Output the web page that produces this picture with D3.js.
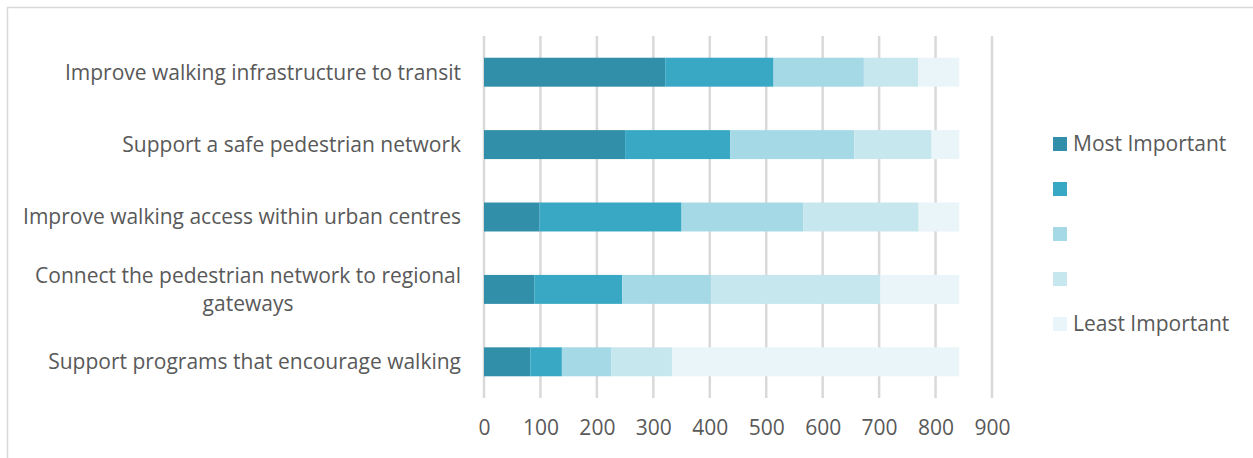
<!DOCTYPE html>
<html>
<head>
<meta charset="utf-8">
<script src="https://cdn.jsdelivr.net/npm/d3@7"></script>
<style>
  html, body { margin: 0; padding: 0; background: #fff; }
  svg text { font-family: "Open Sans", Lato, sans-serif; fill: #595959; }
</style>
</head>
<body>
<div id="chart"></div>
<script>
// categories, top to bottom
const categories = [
    "Improve walking infrastructure to transit",
    "Support a safe pedestrian network",
    "Improve walking access within urban centres",
    "Connect the pedestrian network to regional gateways",
    "Support programs that encourage walking"
];
const seriesNames = ["Most Important", "", "", "", "Least Important"];
const mostImportant   = [321, 250, 98, 89, 82];
const second          = [192, 186, 252, 156, 56];
const third           = [160, 220, 216, 157, 88];
const fourth          = [96, 137, 204, 300, 107];
const leastImportant  = [73, 49, 72, 140, 509];
const xTicks = [0, 100, 200, 300, 400, 500, 600, 700, 800, 900];

const colors = ["#318fa9", "#39a8c5", "#a5d9e6", "#c7e7ee", "#e9f5f8"];

const width = 1253, height = 458;
const plot = {left: 484, right: 992, top: 36, bottom: 398};
const fontSize = "21px";

const seriesValues = [mostImportant, second, third, fourth, leastImportant];
const keys = seriesValues.map((d, i) => "s" + i);
const rows = categories.map((c, i) => {
    let r = {category: c};
    keys.forEach((k, j) => r[k] = seriesValues[j][i]);
    return r;
});
const stacked = d3.stack().keys(keys)(rows);

const svg = d3.select("#chart")
    .append("svg")
    .attr("width", width)
    .attr("height", height);

// chart frame
svg.append("rect")
    .attr("x", 7.5).attr("y", 7.5)
    .attr("width", width).attr("height", height)
    .attr("fill", "none")
    .attr("stroke", "#d9d9d9")
    .attr("stroke-width", 1.5);

const xScale = d3.scaleLinear()
    .domain([0, 900])
    .range([plot.left, plot.right]);

const yScale = d3.scaleBand()
    .domain(categories)
    .range([plot.top, plot.bottom])
    .paddingInner(0.6)
    .paddingOuter(0.3);

// gridlines
svg.append("g")
    .attr("class", "grid")
    .selectAll("line")
    .data(xTicks)
    .join("line")
    .attr("x1", d => xScale(d)).attr("x2", d => xScale(d))
    .attr("y1", plot.top).attr("y2", plot.bottom)
    .attr("stroke", "#d9d9d9")
    .attr("stroke-width", 2.5);

// bars
svg.append("g")
    .selectAll("g")
    .data(stacked)
    .join("g")
    .attr("fill", (d, i) => colors[i])
    .selectAll("rect")
    .data(d => d)
    .join("rect")
    .attr("x", d => xScale(d[0]))
    .attr("width", d => xScale(d[1]) - xScale(d[0]))
    .attr("y", d => yScale(d.data.category))
    .attr("height", yScale.bandwidth());

// x axis labels
const xAxis = d3.axisBottom(xScale)
    .tickValues(xTicks)
    .tickSize(0)
    .tickPadding(0);
const xg = svg.append("g")
    .attr("transform", `translate(0, ${plot.bottom})`)
    .call(xAxis);
xg.select(".domain").remove();
xg.selectAll("text")
    .attr("y", 30)
    .attr("dy", "0.35em")
    .style("font-size", fontSize)
    .attr("fill", "#595959");

// category labels, wrap long ones
const labelX = 461, maxLabelW = 440;
const labels = svg.append("g").attr("class", "cat-labels");
categories.forEach(c => {
    const cy = yScale(c) + yScale.bandwidth() / 2;
    const t = labels.append("text")
        .style("font-size", fontSize)
        .attr("text-anchor", "end")
        .attr("x", labelX)
        .attr("y", cy)
        .attr("dy", "0.35em")
        .text(c);
    if (t.node().getComputedTextLength() > maxLabelW) {
        // split into two lines, second centered under first
        const words = c.split(" ");
        let line1 = words.slice(0, -1).join(" "), line2 = words[words.length - 1];
        t.text(line1);
        const w1 = t.node().getComputedTextLength();
        const mid = labelX - w1 / 2;
        t.text(null).attr("text-anchor", "middle");
        t.append("tspan").attr("x", mid).attr("y", cy - 14).attr("dy", "0.35em").text(line1);
        t.append("tspan").attr("x", mid).attr("y", cy + 14).attr("dy", "0.35em").text(line2);
    }
});

// legend
const legend = svg.append("g")
    .attr("transform", "translate(1053, 144)");
const li = legend.selectAll("g")
    .data(seriesNames)
    .join("g")
    .attr("transform", (d, i) => `translate(0, ${i * 45})`);
li.append("rect")
    .attr("x", 0).attr("y", -7)
    .attr("width", 14).attr("height", 14)
    .attr("fill", (d, i) => colors[i]);
li.append("text")
    .attr("x", 20)
    .attr("dy", "0.35em")
    .style("font-size", fontSize)
    .text(d => d);
</script>
</body>
</html>
